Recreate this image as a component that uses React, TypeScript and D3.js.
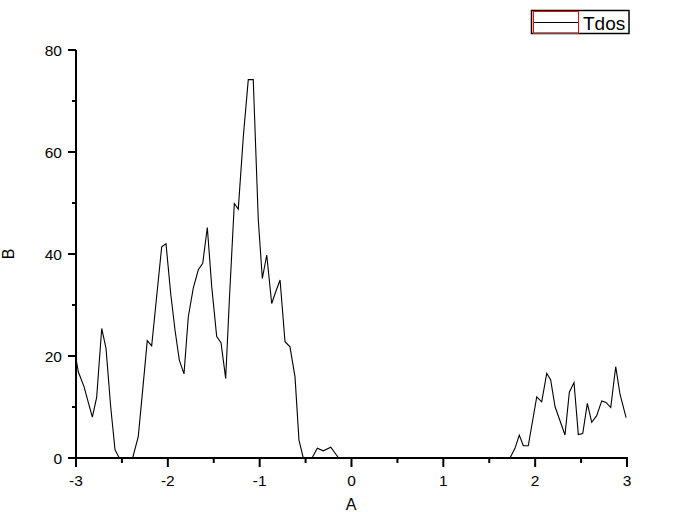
import React, { useEffect, useRef } from 'react';
import * as d3 from 'd3';

// values (x in A, y in B)
const xVals = [-3, -2.975, -2.913, -2.822, -2.775, -2.72, -2.673, -2.622, -2.575, -2.528, -2.383, -2.322, -2.274, -2.224, -2.176, -2.067, -2.02, -1.969, -1.922, -1.875, -1.824, -1.777, -1.723, -1.668, -1.62, -1.57, -1.522, -1.468, -1.421, -1.37, -1.33, -1.276, -1.233, -1.178, -1.124, -1.07, -1.015, -0.971, -0.923, -0.869, -0.825, -0.778, -0.724, -0.67, -0.615, -0.572, -0.525, -0.43, -0.372, -0.307, -0.226, -0.14, 1.726, 1.78, 1.827, 1.871, 1.925, 2.017, 2.071, 2.126, 2.169, 2.216, 2.325, 2.372, 2.423, 2.47, 2.518, 2.568, 2.616, 2.67, 2.725, 2.772, 2.823, 2.877, 2.924, 2.99];
const yVals = [19.5, 16.9, 14.0, 8.0, 11.9, 25.4, 21.5, 10, 1.6, 0, 0, 4.2, 13.3, 23.0, 22.0, 41.4, 42.0, 32.3, 25.1, 19.2, 16.5, 27.7, 33.3, 36.9, 38.2, 45.2, 33.6, 23.8, 22.6, 15.6, 31, 49.9, 48.8, 63, 74.2, 74.2, 46.7, 35.2, 39.8, 30.3, 32.6, 34.9, 22.8, 21.8, 15.9, 3.5, 0, 0, 1.9, 1.4, 2.1, 0, 0, 1.9, 4.5, 2.4, 2.4, 12.0, 11.0, 16.6, 15.3, 10.1, 4.5, 12.9, 14.8, 4.6, 4.8, 10.7, 7.0, 8.3, 11.2, 10.9, 9.9, 17.9, 12.5, 7.9];

const xTicks = [-3, -2, -1, 0, 1, 2, 3];
const xMinorTicks = [-2.5, -1.5, -0.5, 0.5, 1.5, 2.5];
const yTicks = [0, 20, 40, 60, 80];
const yMinorTicks = [10, 30, 50, 70];
const seriesName = 'Tdos';
const xTitle = 'A';
const yTitle = 'B';

const FONT = '"Liberation Sans", Arial, sans-serif';

function App() {
  const svgRef = useRef(null);

  useEffect(() => {
    document.body.style.margin = '0';
    document.body.style.overflow = 'hidden';

    const svg = d3.select(svgRef.current);
    svg.selectAll('*').remove();

    const x = d3.scaleLinear().domain([-3, 3]).range([76, 627]);
    const y = d3.scaleLinear().domain([0, 80]).range([458, 50]);

    const points = xVals.map((v, i) => [v, yVals[i]]);

    const line = d3.line()
      .x(d => x(d[0]))
      .y(d => y(d[1]));

    svg.append('path')
      .datum(points)
      .attr('d', line)
      .attr('fill', 'none')
      .attr('stroke', '#000')
      .attr('stroke-width', 1.1);

    // x axis
    const gx = svg.append('g');
    gx.append('line')
      .attr('x1', x(-3) - 1).attr('x2', x(3) + 1)
      .attr('y1', y(0)).attr('y2', y(0))
      .attr('stroke', '#000').attr('stroke-width', 2);
    gx.selectAll('.major')
      .data(xTicks)
      .enter()
      .append('line')
      .attr('x1', d => x(d)).attr('x2', d => x(d))
      .attr('y1', y(0)).attr('y2', y(0) + 9)
      .attr('stroke', '#000').attr('stroke-width', 2);
    gx.selectAll('.minor')
      .data(xMinorTicks)
      .enter()
      .append('line')
      .attr('x1', d => x(d)).attr('x2', d => x(d))
      .attr('y1', y(0)).attr('y2', y(0) + 5)
      .attr('stroke', '#000').attr('stroke-width', 2);
    gx.selectAll('text')
      .data(xTicks)
      .enter()
      .append('text')
      .attr('x', d => x(d))
      .attr('y', 486)
      .attr('text-anchor', 'middle')
      .attr('font-family', FONT)
      .attr('font-size', '15.5px')
      .attr('fill', '#000')
      .text(d => String(d));

    // y axis
    const gy = svg.append('g');
    gy.append('line')
      .attr('x1', x(-3)).attr('x2', x(-3))
      .attr('y1', y(0) + 1).attr('y2', y(80))
      .attr('stroke', '#000').attr('stroke-width', 2);
    gy.selectAll('.major')
      .data(yTicks)
      .enter()
      .append('line')
      .attr('x1', x(-3) - 8).attr('x2', x(-3))
      .attr('y1', d => y(d)).attr('y2', d => y(d))
      .attr('stroke', '#000').attr('stroke-width', 2);
    gy.selectAll('.minor')
      .data(yMinorTicks)
      .enter()
      .append('line')
      .attr('x1', x(-3) - 4).attr('x2', x(-3))
      .attr('y1', d => y(d)).attr('y2', d => y(d))
      .attr('stroke', '#000').attr('stroke-width', 2);
    gy.selectAll('text')
      .data(yTicks)
      .enter()
      .append('text')
      .attr('x', 62)
      .attr('y', d => y(d) + 5.5)
      .attr('text-anchor', 'end')
      .attr('font-family', FONT)
      .attr('font-size', '15.5px')
      .attr('fill', '#000')
      .text(d => String(d));

    // axis titles
    svg.append('text')
      .attr('x', 351)
      .attr('y', 510)
      .attr('text-anchor', 'middle')
      .attr('font-family', FONT)
      .attr('font-size', '16px')
      .text(xTitle);
    svg.append('text')
      .attr('transform', 'translate(14, 254) rotate(-90)')
      .attr('text-anchor', 'middle')
      .attr('font-family', FONT)
      .attr('font-size', '16px')
      .text(yTitle);

    // legend
    const lg = svg.append('g');
    lg.append('rect')
      .attr('x', 531.5).attr('y', 10.5)
      .attr('width', 97.5).attr('height', 23)
      .attr('fill', '#fff')
      .attr('stroke', '#000')
      .attr('stroke-width', 1.5);
    lg.append('line')
      .attr('x1', 533).attr('x2', 578)
      .attr('y1', 22.5).attr('y2', 22.5)
      .attr('stroke', '#000').attr('stroke-width', 1.2);
    lg.append('line')
      .attr('x1', 533).attr('x2', 578)
      .attr('y1', 33).attr('y2', 33)
      .attr('stroke', '#00ffff').attr('stroke-width', 1);
    lg.append('rect')
      .attr('x', 533.5).attr('y', 11.5)
      .attr('width', 45).attr('height', 21.5)
      .attr('fill', 'none')
      .attr('stroke', '#ff0000')
      .attr('stroke-width', 1);
    lg.append('text')
      .attr('x', 583)
      .attr('y', 29.5)
      .attr('font-family', FONT)
      .attr('font-size', '19px')
      .attr('fill', '#000')
      .text(seriesName);
  }, []);

  return (
    <svg ref={svgRef} width={676} height={512} style={{ position: 'absolute', left: 0, top: 0, display: 'block', background: '#fff' }} />
  );
}

export default App;
